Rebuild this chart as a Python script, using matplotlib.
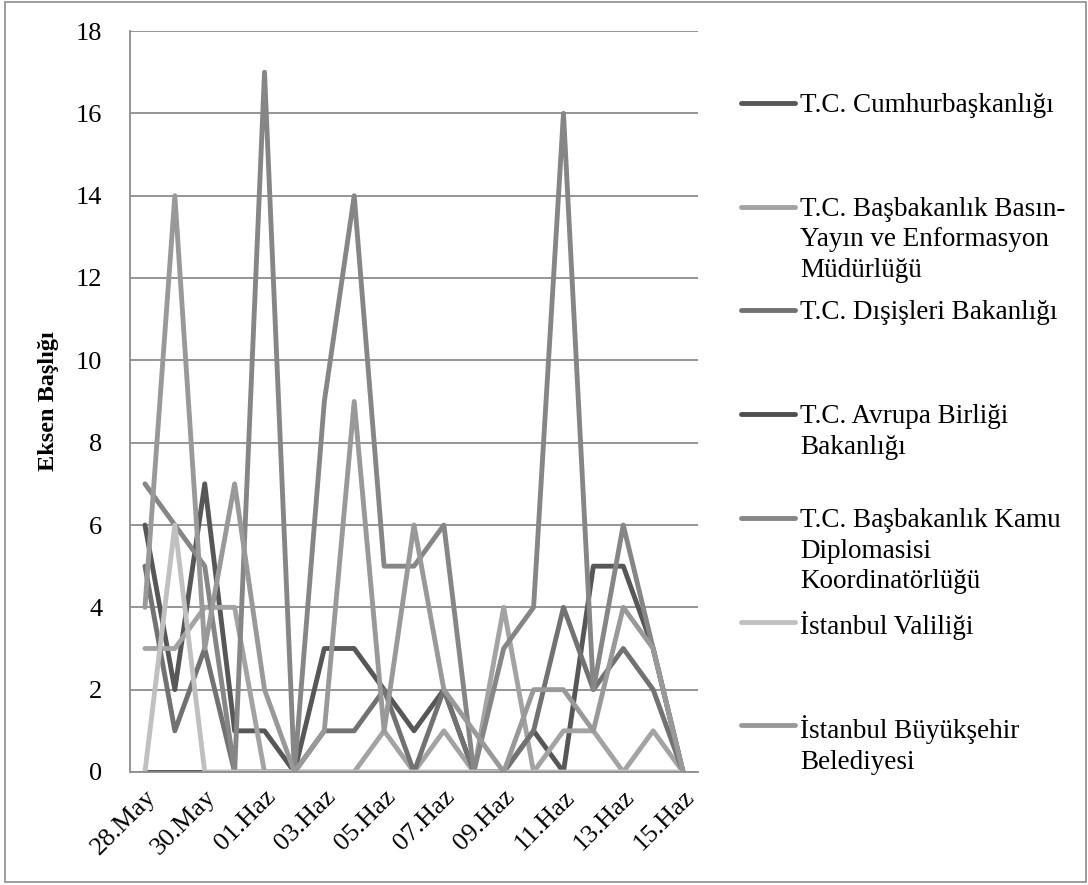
import numpy as np
import matplotlib
matplotlib.use("Agg")
import matplotlib.pyplot as plt
from matplotlib.lines import Line2D
from matplotlib.patches import Rectangle

plt.rcParams['font.family'] = ['Liberation Serif', 'DejaVu Serif']

# Data
dates = ["28.May", "29.May", "30.May", "31.May", "01.Haz", "02.Haz", "03.Haz",
         "04.Haz", "05.Haz", "06.Haz", "07.Haz", "08.Haz", "09.Haz", "10.Haz",
         "11.Haz", "12.Haz", "13.Haz", "14.Haz", "15.Haz"]

cumhurbaskanligi = [6, 2, 7, 1, 1, 0, 3, 3, 2, 1, 2, 0, 0, 1, 0, 5, 5, 3, 0]
basin_yayin = [3, 3, 4, 4, 0, 0, 0, 0, 1, 0, 1, 0, 4, 0, 1, 1, 0, 1, 0]
disisleri = [5, 1, 3, 0, 0, 0, 1, 1, 2, 0, 2, 0, 0, 1, 4, 2, 3, 2, 0]
avrupa_birligi = [0, 0, 0, 0, 0, 0, 0, 0, 0, 0, 0, 0, 0, 0, 0, 0, 0, 0, 0]
kamu_diplomasisi = [7, 6, 5, 0, 17, 0, 9, 14, 5, 5, 6, 0, 3, 4, 16, 2, 6, 3, 0]
istanbul_valiligi = [0, 6, 0, 0, 0, 0, 0, 0, 0, 0, 0, 0, 0, 0, 0, 0, 0, 0, 0]
istanbul_bb = [4, 14, 3, 7, 2, 0, 1, 9, 1, 6, 2, 1, 0, 2, 2, 1, 4, 3, 0]

labels = ["T.C. Cumhurbaşkanlığı",
          "T.C. Başbakanlık Basın-\nYayın ve Enformasyon\nMüdürlüğü",
          "T.C. Dışişleri Bakanlığı",
          "T.C. Avrupa Birliği\nBakanlığı",
          "T.C. Başbakanlık Kamu\nDiplomasisi\nKoordinatörlüğü",
          "İstanbul Valiliği",
          "İstanbul Büyükşehir\nBelediyesi"]

# Style
colors = ["#575757", "#a3a3a3", "#727272", "#4e4e4e", "#868686", "#c0c0c0", "#999999"]
LEG_TOP = 103     # pixel row of first legend entry
LEG_STEP = 103.7  # pixel distance between entries
LW = 3.5

series = [cumhurbaskanligi, basin_yayin, disisleri, avrupa_birligi,
          kamu_diplomasisi, istanbul_valiligi, istanbul_bb]

W, H = 1088, 885
fig = plt.figure(figsize=(W / 100, H / 100), dpi=100)
ax = fig.add_axes([130 / W, 1 - 772 / H, (698 - 130) / W, (772 - 31) / H])

x = np.arange(len(dates))
for vals, col in zip(series, colors):
    ax.plot(x, vals, color=col, lw=LW, solid_joinstyle='round', solid_capstyle='round')

ax.set_xlim(-0.5, len(dates) - 0.5)
ax.set_ylim(0, 18)
ax.set_yticks(range(0, 19, 2))
ax.set_xticks(x[::2])
ax.set_xticklabels(dates[::2], rotation=45, ha='right', rotation_mode='anchor', fontsize=19)
ax.tick_params(axis='y', labelsize=19, length=0, pad=20)
ax.tick_params(axis='x', length=0, pad=10)

ax.grid(axis='y', color='#8c8c8c', lw=1.3)
ax.set_axisbelow(True)
for s in ['top', 'right']:
    ax.spines[s].set_visible(False)
for s in ['left', 'bottom']:
    ax.spines[s].set_color('#8c8c8c')
    ax.spines[s].set_linewidth(1.3)

ax.set_ylabel("Eksen Başlığı", fontsize=17.5, fontweight='bold', labelpad=12)

# Legend (Excel-like, fixed slots)
for i, (lab, col) in enumerate(zip(labels, colors)):
    yf = 1 - (LEG_TOP + i * LEG_STEP) / H
    fig.add_artist(Line2D([741 / W, 795 / W], [yf, yf], color=col, lw=LW,
                          solid_capstyle='round', transform=fig.transFigure))
    fig.text(800 / W, yf + 10 / H, lab, fontsize=19.5, va='top', ha='left',
             linespacing=1.3, transform=fig.transFigure)

# Chart border
fig.add_artist(Rectangle((5 / W, 1 - 882 / H), (1086 - 5) / W, (882 - 2) / H,
                         fill=False, edgecolor='#8c8c8c', lw=1.2,
                         transform=fig.transFigure))

fig.savefig("out.png", dpi=100)
